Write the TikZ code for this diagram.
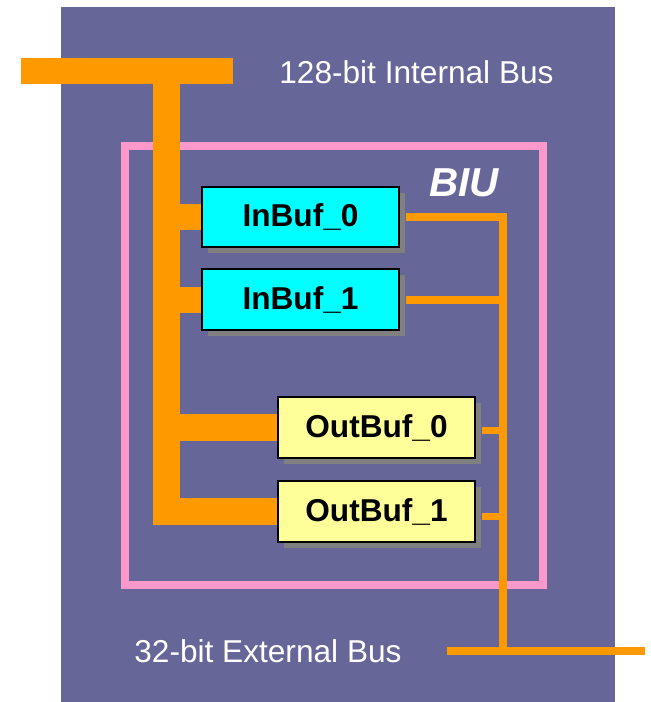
\documentclass[tikz,border=0pt]{standalone}
\usepackage{fontspec}
\setmainfont{Liberation Sans}
\usepackage{tikz}
\usetikzlibrary{positioning, shadows}

\definecolor{bgblue}{HTML}{666699}
\definecolor{busorange}{HTML}{FF9900}
\definecolor{biupink}{HTML}{FF99CC}
\definecolor{incyan}{HTML}{00FFFF}
\definecolor{outyellow}{HTML}{FFFF99}
\definecolor{shadowgray}{HTML}{808080}

\begin{document}
\begin{tikzpicture}[
  x=0.02cm, y=-0.02cm,
  buf/.style={draw=black, line width=0.04cm, minimum width=3.94cm,
    minimum height=1.22cm, inner sep=0pt, font=\fontsize{18}{21}\selectfont\bfseries,
    drop shadow={shadow xshift=0.12cm, shadow yshift=-0.12cm,
      fill=shadowgray, opacity=1}},
  intbus/.style={busorange, line width=0.53cm, line join=miter},
  extbus/.style={busorange, line width=0.15cm, line join=miter},
  lbl/.style={text=white, inner sep=0pt, font=\fontsize{18}{21}\selectfont},
]
  \useasboundingbox (0,0) rectangle (650,702);
  \fill[bgblue] (61,7) rectangle (615,702);
  \draw[biupink, line width=0.16cm] (125,146) rectangle (543,585);

  \coordinate (tl) at (21,71);
  \coordinate (tr) at (233,71);
  \coordinate (ibus) at (166.5,58);
  \draw[intbus] (tl) -- (tr);

  \node[lbl, anchor=base west] (intlbl) at (279,84) {128-bit Internal Bus};
  \node[lbl, anchor=base west] (extlbl) at (134,662) {32-bit External Bus};
  \node[lbl, anchor=base, font=\fontsize{23}{27}\selectfont\bfseries\itshape]
    (biu) at (464,197) {BIU};

  \node[buf, fill=incyan] (ib0) at (300.5,217) {InBuf\_0};
  \node[buf, fill=incyan, below=0.4cm of ib0] (ib1) {InBuf\_1};
  \node[buf, fill=outyellow] (ob0) at (376.5,427.5) {OutBuf\_0};
  \node[buf, fill=outyellow, below=0.42cm of ob0] (ob1) {OutBuf\_1};

  \draw[intbus] (ibus) -- (ob1.west -| ibus) -- (ob1.west);
  \draw[intbus] (ib0.west -| ibus) -- (ib0.west);
  \draw[intbus] (ib1.west -| ibus) -- (ib1.west);
  \draw[intbus] (ob0.west -| ibus) -- (ob0.west);

  \coordinate (ebus) at (503,651);
  \coordinate (ebl) at (447,651);
  \coordinate (ebr) at (645,651);
  \draw[extbus] ([xshift=0.12cm]ib0.east) -| (ebus);
  \draw[extbus] ([xshift=0.12cm]ib1.east) -- (ib1.east -| ebus);
  \draw[extbus] ([xshift=0.12cm,yshift=-0.06cm]ob0.east) -- ([yshift=-0.06cm]ob0.east -| ebus);
  \draw[extbus] ([xshift=0.12cm,yshift=-0.1cm]ob1.east) -- ([yshift=-0.1cm]ob1.east -| ebus);
  \draw[extbus] (ebl) -- (ebr);
\end{tikzpicture}
\end{document}
